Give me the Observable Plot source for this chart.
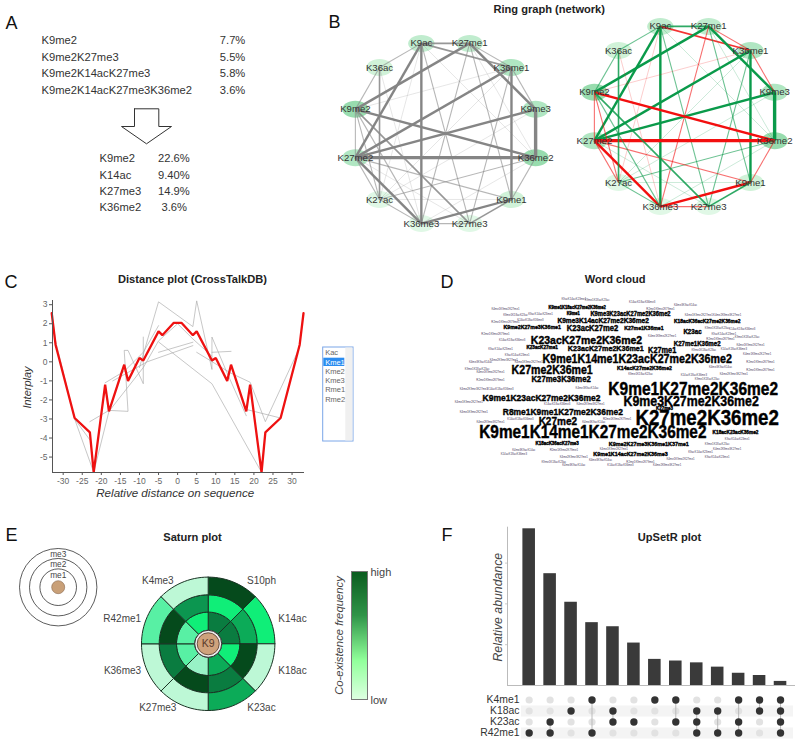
<!DOCTYPE html>
<html><head><meta charset="utf-8">
<script src="https://cdn.jsdelivr.net/npm/d3@7"></script>
<script src="https://cdn.jsdelivr.net/npm/@observablehq/plot@0.6"></script>
<style>
html,body{margin:0;padding:0;background:#fff}
#stage{position:relative;width:800px;height:751px;overflow:hidden;background:#fff;font-family:"Liberation Sans",Arial,sans-serif}
#stage svg{position:absolute;background:transparent;font-family:"Liberation Sans",Arial,sans-serif}
</style></head><body><div id="stage"></div>
<script>
// ---------- Panel A
const comboNames=["K9me2","K9me2K27me3","K9me2K14acK27me3","K9me2K14acK27me3K36me2"];
const comboShares=["7.7%","5.5%","5.8%","3.6%"];
const markNames=["K9me2","K14ac","K27me3","K36me2"];
const markShares=["22.6%","9.40%","14.9%","3.6%"];
// ---------- Panel B
const ringNodes=["K9ac","K27me1","K36me1","K9me3","K36me2","K9me1","K27me3","K36me3","K27ac","K27me2","K9me2","K36ac"];
const nodeStrength=[2,2,3,3,4,1,0,0,0,3,4,1];
const edgeA=["K9ac","K9ac","K9ac","K9ac","K9ac","K9ac","K9ac","K9ac","K27me1","K27me1","K27me1","K27me1","K27me1","K27me1","K36me1","K36me1","K36me1","K36me1","K36me1","K36me1","K9me3","K9me3","K9me3","K36me2","K36me2","K36me2","K36me2","K36me2","K9me1","K9me1","K9me1","K9me1","K27me3","K27me3","K36me3","K36me3","K36me3","K27ac","K27ac","K27ac","K27me2","K36ac","K36ac","K27me2"];
const edgeB=["K27me1","K36ac","K36me1","K27me2","K36me3","K27me3","K36me2","K27ac","K9me2","K36me1","K9me3","K9me1","K36me3","K36me2","K9me3","K27me2","K9me1","K9me2","K27me3","K27ac","K36me2","K27me2","K27ac","K27me2","K9me2","K27ac","K9me1","K36me3","K36me3","K27me3","K27ac","K27me2","K36me3","K9me2","K27me2","K9me2","K27ac","K27me2","K36ac","K9me2","K9me2","K9me2","K36me3","K27me3"];
const edgeValue=[3,2,-3,4,4,2,1,-1,4,-2,4,2,-2,1,-2,4,4,-1,2,1,5,4,1,-5,-4,2,-2,1,-4,3,1,-2,-2,3,-4,2,2,-2,3,-2,-2,2,-1,1];
// ---------- Panel C
const redX=[-33,-32,-27,-23,-22,-19,-18,-14,-13,-10,-9,-5,-4,-1,1,4,5,9,10,13,14,18,19,22,23,27,32,33];
const redY=[2.55,0.9,-2.95,-3.7,-5.8,-1.2,-2.6,-0.15,-1,0.2,0.07,1.6,1.4,2.05,2.05,1.4,1.6,0.07,0.2,-1,-0.15,-2.6,-1.2,-5.8,-3.7,-2.95,0.9,2.55];
const greyLines=[
 [[-23,-3.14],[-18,-2.55],[-13,-2.6],[-14,0.6],[-13,0.6],[-9,-1.15],[-9,1.3]],
 [[-10,-0.3],[-5,3.15],[4,1.85],[5,3.2],[9,-0.4],[9,1.3],[13,-0.6],[18,-2.83]],
 [[-19,-1.1],[-14,-0.5],[-9,0.5],[-5,1.9]],
 [[-5,0.5],[4,1.03]],
 [[-17,-1],[-8,0],[4,0.85]],
 [[-4.9,1.03],[9,-1.15],[22,-5.8]],
 [[-27,-3],[-22,-5.8],[-18,-2.6],[-9,-0.3],[-5,1.1],[0,2],[4,1.2],[9,0.3]],
 [[5,0.5],[14,-0.6],[19,-1.07],[23,-3.14],[31.4,0.5]],
 [[18,-2.5],[27,-2.95]],
 [[9,0.5],[14,0.55]],
 [[-33,2.55],[-32,1.1],[-27,-3],[-23,-4.1]]
];
const selectItems=["Kac","Kme1","Kme2","Kme3","Rme1","Rme2"];
// ---------- Panel D
const bigWords=["K27me2K36me2","K9me1K27me2K36me2","K9me1K14me1K27me2K36me2","K9me3K27me2K36me2","K9me1K14me1K23acK27me2K36me2","K23acK27me2K36me2","K27me2K36me1","K9me1K23acK27me2K36me2","R8me1K9me1K27me2K36me2","K27me3K36me2","K27me2","K23acK27me2","K23acK27me2K36me1","K27me1","K9me3K14acK27me2K36me2","K9me3K23acK27me2K36me2","K9me2K27me3K36me1","K27me1K36me1","K18acK36acK27me2K36me2","K23ac","K27me1K36me2","K14acK27me2K36me2","K9me1K18acK27me2K36me2","K9me2K27me3K36me1K37me1","K9me1K14acK27me2K36me3","K18acK36acK27me3","K23acK27me1","K18acK23acK36me2","K27me3","K9me1"];
const wordWeight=[23,19.2,19,15.3,13,12.6,13,10.3,10.5,9.5,12.3,9,8.6,9,8,7,6.5,6.3,5.8,7,7.5,6.2,5,6.7,6.5,5.2,5.5,5.5,5.4,5];
const fillerWords=["K4me1K9me2K27me1","K9acK14acK23me1","K9me1K18acK23ac","K14acK18acK36me3","K4me2K9me3K27me1","K4me3K9acK14ac","R2me1K9me2K79me1"];
// ---------- Panel E
const saturnMarks=["S10ph","K14ac","K18ac","K23ac","K27me3","K36me3","R42me1","K4me3"];
const saturnMe1=[4,4,2,3,0.6,1,1,2];
const saturnMe2=[2,3,5,4,5,4,5,3.5];
const saturnMe3=[5,2,0,3,0,0,1,0];
const colorLevels=[0,0.6,1,2,3,3.5,4,5];
const colorRange=["#bdf8d6","#98f2c6","#58f0a4","#10ee78","#0cab58","#0c9650","#0a7c40","#054a1c"];
const legendStops=d3.range(0,1,1/128);
// ---------- Panel F
const setColumns=d3.range(1,14);
const setHeights=[3.84,2.74,2.04,1.54,1.44,1.04,0.64,0.6,0.555,0.45,0.3,0.245,0.1];
const setRows=["K4me1","K18ac","K23ac","R42me1"];
const setMembers=[["R42me1"],["K23ac","R42me1"],["K18ac"],["K4me1","R42me1"],["K18ac","K23ac"],["K23ac"],["K4me1"],["K4me1","K23ac"],["K18ac","K23ac","R42me1"],["K18ac","R42me1"],["K4me1","K23ac","R42me1"],["K4me1","K18ac"],["K4me1","K18ac","K23ac","R42me1"]];

// ---------- helpers
const stage=document.getElementById("stage");
const FONT="Liberation Sans";
function place(svg,left,top){svg.style.left=left+"px";svg.style.top=top+"px";stage.appendChild(svg);return svg;}
function pageScale(w,h){return {width:w,height:h,margin:0,x:{domain:[0,w],range:[0,w],axis:null},y:{domain:[0,h],range:[0,h],axis:null},style:{background:"transparent",fontFamily:FONT,overflow:"visible"}};}
function labels(strs,xs,ys,opts){return Plot.text(strs,{x:(d,i)=>xs[i],y:(d,i)=>ys[i],text:d=>d,fontFamily:FONT,...opts});}

// ---------- page layer: panel letters, titles, panel A, list box, axis titles
const arrowShape=[[134,108.3],[158.3,108.3],[158.3,126],[171,126],[146,143.3],[121,126],[134,126],[134,108.3]];
const titles=["Ring graph (network)","Distance plot (CrossTalkDB)","Word cloud","Saturn plot","UpSetR plot"];
const rowYa=[40,56.5,73,89.5], rowYb=[158,174.7,191,207];
const itemY=[351.7,361.7,370.7,380,389.3,398.7];
place(Plot.plot({...pageScale(800,751),marks:[
  labels(["A","B","C","D","E","F"],[5,328,4,440,5,441],[22.5,22,282,282,535,535],{textAnchor:"start",fontSize:18,fill:"#111"}),
  labels(titles,[548.7,192,614.7,192,669],[9,279,279,536.7,536.7],{fontSize:11.1,fontWeight:"bold",fill:"#222",letterSpacing:"0.2px"}),
  labels(comboNames,[41,41,41,41],rowYa,{textAnchor:"start",fontSize:11.2,fill:"#333"}),
  labels(comboShares,[219.3,219.3,219.3,219.3],rowYa,{textAnchor:"start",fontSize:11.2,fill:"#333"}),
  labels(markNames,[99,99,99,99],rowYb,{textAnchor:"start",fontSize:11.2,fill:"#333"}),
  labels(markShares,[157.5,157.5,157.5,161],rowYb,{textAnchor:"start",fontSize:11.2,fill:"#333"}),
  Plot.line(arrowShape,{x:d=>d[0],y:d=>d[1],fill:"#fff",stroke:"#333",strokeWidth:1,strokeLinejoin:"miter"}),
  Plot.rect([0],{x1:322.7,x2:353,y1:347,y2:441,fill:"#fff",stroke:"#7aa6e8",strokeWidth:1}),
  Plot.rect([0],{x1:345.3,x2:352.5,y1:347.5,y2:440.5,fill:"#f0f0f0"}),
  Plot.rect([0],{x1:323.3,x2:344.3,y1:357.7,y2:366,fill:"#2a8cf0"}),
  labels(selectItems,selectItems.map(()=>324.7),itemY,{textAnchor:"start",fontSize:7.5,fill:(d)=>d==="Kme1"?"#fff":"#666"}),
  labels(["Interplay"],[27.3],[387],{rotate:-90,fontSize:11,fontStyle:"italic",fill:"#333"}),
  labels(["Relative distance on sequence"],[174.7],[492.3],{fontSize:11.6,fontStyle:"italic",fill:"#333"}),
  labels(["Co-existence frequency"],[339.3],[635],{rotate:-90,fontSize:11.3,fontStyle:"italic",fill:"#444"}),
  labels(["high","low"],[370,370],[572,700],{textAnchor:"start",fontSize:11,fill:"#444"}),
  labels(["Relative abundance"],[497.7],[606.7],{rotate:-90,fontSize:12.3,fontStyle:"italic",fill:"#444"})
]}),0,0);

// ---------- Panel B: two rings
const ring=new Map(ringNodes.map((n,i)=>{const t=(i*30+(-15))*Math.PI/180;return [n,[Math.sin(t),-Math.cos(t)]];}));
const nodes=ringNodes.map((name,i)=>({name,strength:nodeStrength[i],x:ring.get(name)[0],y:ring.get(name)[1]}));
const edges=edgeA.map((a,i)=>({a,b:edgeB[i],v:edgeValue[i],x1:ring.get(a)[0],y1:ring.get(a)[1],x2:ring.get(edgeB[i])[0],y2:ring.get(edgeB[i])[1]}));
const widthOf=[0,0.7,1.1,1.6,2.4,3.4];
const alphaOf=[0,0.3,0.6,0.85,1,1];
const ellipse={draw(c,size){const ry=Math.sqrt(size/Math.PI),rx=ry*1.55,k=0.5523;
  c.moveTo(rx,0);c.bezierCurveTo(rx,k*ry,k*rx,ry,0,ry);c.bezierCurveTo(-k*rx,ry,-rx,k*ry,-rx,0);
  c.bezierCurveTo(-rx,-k*ry,-k*rx,-ry,0,-ry);c.bezierCurveTo(k*rx,-ry,rx,-k*ry,rx,0);c.closePath();}};
function ringPlot(edgeColor){
  const D=115/93.3;
  return Plot.plot({width:230,height:230,margin:0,
    x:{domain:[-D,D],axis:null},y:{domain:[-D,D],range:[0,230],axis:null},
    color:{type:"ordinal",domain:[0,1,2,3,4],range:["#e0f8e6","#d0f2d8","#c0ecce","#b0e6c2","#98dcae"]},
    style:{background:"transparent",fontFamily:FONT,overflow:"visible"},
    marks:[
      Plot.dot(nodes,{x:"x",y:"y",r:8.5,symbol:ellipse,fill:"strength"}),
      Plot.link(edges,{x1:"x1",y1:"y1",x2:"x2",y2:"y2",stroke:edgeColor,strokeWidth:d=>widthOf[Math.abs(d.v)],strokeOpacity:d=>alphaOf[Math.abs(d.v)]}),
      Plot.text(nodes,{x:"x",y:"y",text:"name",fontSize:9.6,fill:"#333",fontFamily:FONT})
    ]});
}
place(ringPlot(()=>"#858585"),330,17.7);
place(ringPlot(d=>d.v>0?"#0a9a4a":"#f20f0f"),569.3,0.7);

// ---------- Panel C
const redLine=redX.map((x,i)=>({x,y:redY[i]}));
const greySeries=greyLines.flatMap((pts,id)=>pts.map(([x,y])=>({id,x,y})));
place(Plot.plot({width:320,height:200,marginLeft:52,marginRight:17,marginTop:5,marginBottom:23,
  x:{domain:[-32.8,33]},y:{domain:[-5.81,3.22]},
  style:{background:"transparent",fontFamily:FONT,overflow:"visible"},
  marks:[
    Plot.line(greySeries,{x:"x",y:"y",z:"id",stroke:"#a8a8a8",strokeWidth:0.65}),
    Plot.line(redLine,{x:"x",y:"y",stroke:"#ee1111",strokeWidth:2.3,strokeLinejoin:"miter"}),
    Plot.frame({anchor:"left",stroke:"#555"}),
    Plot.frame({anchor:"bottom",stroke:"#555"}),
    Plot.axisX({ticks:d3.range(-30,31,5),tickSize:3,tickPadding:2,fontSize:8.5,color:"#666",stroke:"#555",label:null,tickFormat:d=>String(d)}),
    Plot.axisY({ticks:d3.range(-5,4),tickSize:3,tickPadding:2,fontSize:8.5,color:"#666",stroke:"#555",label:null,tickFormat:d=>String(d)})
  ]}),0,295);

// ---------- Panel D (positions in a 1080x660 layout grid)
const wordAtX=[800,758,457,752,590,438,335,303,367,362,352,456,496,665,488,570,275,610,800,756,770,612,410,625,570,350,305,885,672,398];
const wordAtY=[458,371,502,408,282,224,313,396,438,342,467,188,249,255,164,145,185,187,168,200,235,307,125,535,565,533,247,500,429,145];
const fillerAt=[[195,130],[400,102],[470,105],[605,110],[530,122],[735,120],[660,130],[775,150],[300,145],[225,150],[270,165],[860,150],[905,165],[195,170],[640,170],[720,170],[830,188],[905,190],[690,190],[250,205],[165,205],[665,212],[850,205],[920,215],[215,225],[165,232],[610,222],[840,220],[930,240],[180,250],[790,255],[880,250],[225,258],[130,258],[600,250],[950,265],[230,270],[700,265],[880,280],[190,285],[120,290],[960,290],[265,290],[190,300],[110,310],[500,305],[720,305],[840,305],[960,315],[150,320],[480,325],[600,325],[760,330],[880,325],[990,345],[150,345],[470,345],[600,345],[800,340],[180,370],[100,372],[440,368],[150,385],[85,410],[520,405],[250,412],[350,417],[450,417],[500,430],[160,420],[100,440],[170,450],[640,420],[240,460],[150,470],[460,470],[530,460],[980,500],[890,520],[830,535],[240,530],[860,550],[250,555],[370,555],[520,550],[780,560],[915,555],[220,565],[400,575],[480,585],[600,590],[720,580],[830,575],[340,590],[540,600],[680,600],[400,600]];
const bigRows=bigWords.map((w,i)=>({w,x:wordAtX[i],y:wordAtY[i],s:wordWeight[i]*0.93,len:wordWeight[i]*w.length*0.52}));
const fillSize=2.8;
const hit=(a,b)=>Math.abs(a.x-b.x)<(a.hw+b.hw)&&Math.abs(a.y-b.y)<(a.hh+b.hh);
const occupied=bigRows.map(r=>({x:r.x,y:r.y,hw:r.len*1.5,hh:r.s*1.5}));
const fillRows=[];
fillerAt.forEach(([x,y],i)=>{
  const w=fillerWords[i%fillerWords.length];
  const box={x,y,hw:w.length*fillSize*0.55*1.5,hh:fillSize*1.5};
  if(!occupied.some(o=>hit(o,box))){occupied.push(box);fillRows.push({x,y,w});}
});
const cloud=place(Plot.plot({width:360,height:220,margin:0,
  x:{domain:[0,1080],range:[0,360],axis:null},y:{domain:[0,660],range:[0,220],axis:null},
  style:{background:"transparent",overflow:"visible"},
  marks:[
    Plot.text(fillRows,{x:"x",y:"y",text:"w",fontSize:fillSize,fill:"#4a3a5e",fontFamily:FONT}),
    Plot.text(bigRows,{x:"x",y:"y",text:"w",fontSize:"s",fill:"#000",stroke:"#000",strokeWidth:0.4,fontWeight:"bold",fontFamily:FONT})
  ]}),440,265);
const cloudGroups=cloud.querySelectorAll('g[aria-label="text"]');
cloudGroups[1].querySelectorAll("text").forEach((t,i)=>{t.setAttribute("textLength",bigRows[i].len.toFixed(1));t.setAttribute("lengthAdjust","spacingAndGlyphs");});

// ---------- Panel E (1:1 layout grid for the 420x236 corner)
const ctr=[207.7,128.3];
const radii=[13.5,31.7,49,66.7];
const saturnCells=saturnMarks.flatMap((m,s)=>[saturnMe1,saturnMe2,saturnMe3].map((lv,ringI)=>({m,s,ringI,level:lv[s]})));
const saturnPts=saturnCells.flatMap((c,id)=>{
  const a0=c.s*45,pts=[],r0=radii[c.ringI],r1=radii[c.ringI+1];
  for(let a=0;a<=45;a+=3)pts.push([a0+a,r1]);
  for(let a=45;a>=0;a-=3)pts.push([a0+a,r0]);
  pts.push([a0,r1]);
  return pts.map(([a,r])=>({id,level:c.level,x:ctr[0]+r*Math.sin(a*Math.PI/180),y:ctr[1]-r*Math.cos(a*Math.PI/180)}));
});
const saturnLabelX=[261,292,292,261,157.3,122,121.7,157.3];
const saturnLabelY=[65.7,103,155.3,192.7,192.7,155.3,103,65.7];
place(Plot.plot({...pageScale(420,236),
  color:{domain:colorLevels,range:colorRange,type:"ordinal"},
  r:{type:"identity"},
  marks:[
    Plot.dot([38.7,28.7,18.3],{x:57.7,y:71.7,r:d=>d,stroke:"#333",strokeWidth:0.8,fill:"none"}),
    Plot.dot([0],{x:57.7,y:71.7,r:6.5,fill:"#c9a078",stroke:"#8a6a50",strokeWidth:0.6}),
    labels(["me3","me2","me1"],[57.7,57.7,57.7],[38.7,49,60],{fontSize:8.3,fill:"#444"}),
    Plot.line(saturnPts,{x:"x",y:"y",z:"id",fill:"level",stroke:"#1a3324",strokeWidth:1,strokeLinejoin:"round"}),
    Plot.dot([0],{x:ctr[0],y:ctr[1],r:13.5,fill:"#eee",stroke:"#333",strokeWidth:1}),
    Plot.dot([0],{x:ctr[0],y:ctr[1],r:11,fill:"#cfa27c",stroke:"#6b5142",strokeWidth:1}),
    labels(["K9"],[ctr[0]],[ctr[1]],{fontSize:10.5,fill:"#5a3a2a"}),
    labels(saturnMarks,saturnLabelX,saturnLabelY,{fontSize:10,fill:"#444"})
  ]}),0,515);
place(Plot.plot({width:16,height:128,margin:0,
  x:{domain:[0,1],axis:null},y:{domain:[0,1],range:[128,0],axis:null},
  color:{type:"linear",domain:[0,0.3,0.65,1],range:["#dcffe0","#90ff9a","#2f9448","#0a5a1e"]},
  style:{background:"transparent",overflow:"visible"},
  marks:[
    Plot.rect(legendStops,{x1:0,x2:1,y1:d=>d,y2:d=>d+1/128,fill:d=>d,shapeRendering:"crispEdges"}),
    Plot.frame({stroke:"#777"})
  ]}),351,571);

// ---------- Panel F
const bars=setColumns.map((c,i)=>({c,h:setHeights[i]}));
const matrix=setColumns.flatMap((c,i)=>setRows.map(r=>({c,r,on:setMembers[i].includes(r)})));
const links=matrix.filter(d=>d.on);
const bandX={type:"band",domain:setColumns,range:[88.2,360.5],paddingInner:0.4,paddingOuter:0.2,round:false,axis:null};
place(Plot.plot({width:370,height:170,marginLeft:77,marginRight:5,marginTop:6.7,marginBottom:5,
  x:bandX,y:{domain:[0,3.84],range:[165,8.3]},
  style:{background:"transparent",fontFamily:FONT,overflow:"visible"},
  marks:[
    Plot.barY(bars,{x:"c",y:"h",fill:"#3a3a3a"}),
    Plot.frame({anchor:"left",stroke:"#bbb"}),
    Plot.ruleY([0],{stroke:"#bbb"}),
    Plot.axisY({ticks:[1,2,3],tickSize:2,stroke:"#ccc",tickFormat:()=>"",label:null})
  ]}),430,520);
place(Plot.plot({width:370,height:44,marginLeft:91,marginRight:7,marginTop:0,marginBottom:0,
  x:bandX,y:{type:"band",domain:setRows,range:[0,44],padding:0,round:false,axis:null},
  style:{background:"transparent",fontFamily:FONT,overflow:"visible"},
  marks:[
    Plot.tickY(["K18ac","R42me1"],{y:d=>d,stroke:"#f4f4f4",strokeWidth:11}),
    Plot.dot(matrix.filter(d=>!d.on),{x:"c",y:"r",r:3.6,fill:"#e2e2e2"}),
    Plot.line(links,{x:"c",y:"r",z:"c",stroke:"#b5b5b5",strokeWidth:0.9}),
    Plot.dot(links,{x:"c",y:"r",r:3.7,fill:"#333"}),
    Plot.axisY({anchor:"left",tickSize:0,tickPadding:2,fontSize:10.4,color:"#333",label:null})
  ]}),430,693.8);
</script></body></html>
